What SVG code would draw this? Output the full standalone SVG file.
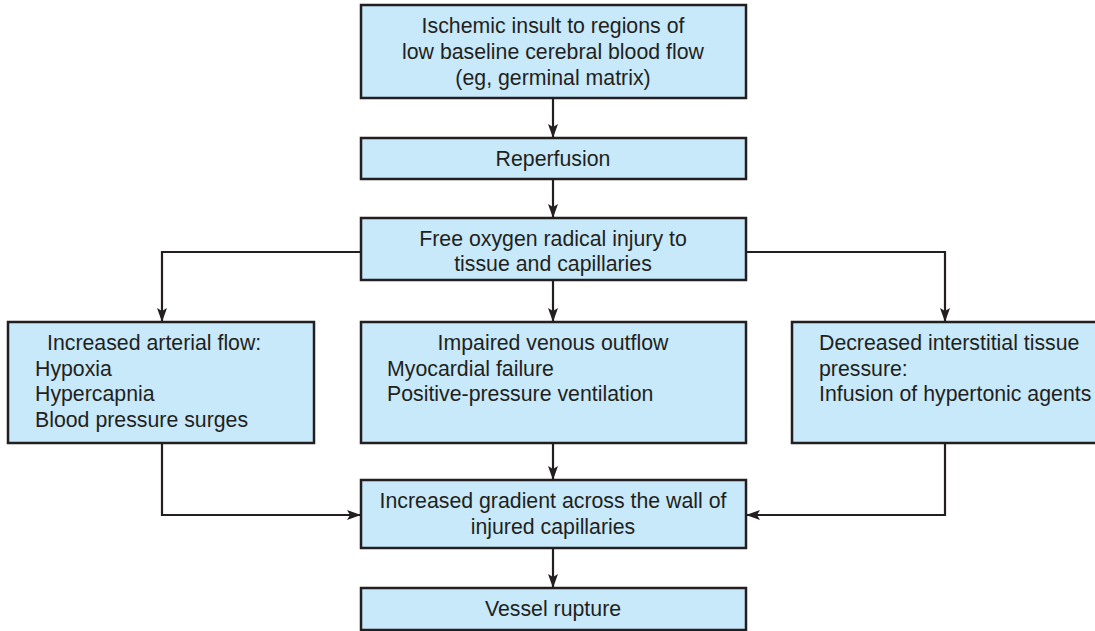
<svg xmlns="http://www.w3.org/2000/svg" width="1095" height="631" viewBox="0 0 1095 631">
<style>
.box{fill:#c7e9f9;stroke:#231f20;stroke-width:2.5}
.t{font-family:"Liberation Sans",Arial,sans-serif;font-size:21.3px;fill:#231f20}
.c{text-anchor:middle}
.ln{fill:none;stroke:#231f20;stroke-width:2.2}
</style>
<defs>
<marker id="ah" viewBox="0 0 14 10" refX="14" refY="5" markerWidth="14" markerHeight="10" markerUnits="userSpaceOnUse" orient="auto">
<path d="M0,0 L14,5 L0,10 L3,5 Z" fill="#231f20"/>
</marker>
</defs>
<rect width="1095" height="631" fill="#fff"/>
<g id="connectors">
<path class="ln" d="M553,98 V138" marker-end="url(#ah)"/>
<path class="ln" d="M553,179 V218" marker-end="url(#ah)"/>
<path class="ln" d="M553,280 V322" marker-end="url(#ah)"/>
<path class="ln" d="M361,252 H162 V322" marker-end="url(#ah)"/>
<path class="ln" d="M746,252 H945 V322" marker-end="url(#ah)"/>
<path class="ln" d="M553,443 V480" marker-end="url(#ah)"/>
<path class="ln" d="M162,443 V515 H361" marker-end="url(#ah)"/>
<path class="ln" d="M945,443 V515 H746" marker-end="url(#ah)"/>
<path class="ln" d="M553,548 V588" marker-end="url(#ah)"/>
</g>
<g id="ischemic">
<rect class="box" x="361" y="5" width="385" height="93"/>
<text class="t c" x="553" y="33">Ischemic insult to regions of</text>
<text class="t c" x="553" y="59">low baseline cerebral blood flow</text>
<text class="t c" x="553" y="85">(eg, germinal matrix)</text>
</g>
<g id="reperfusion">
<rect class="box" x="361" y="138" width="385" height="41"/>
<text class="t c" x="553" y="166">Reperfusion</text>
</g>
<g id="radical">
<rect class="box" x="361" y="218" width="385" height="62"/>
<text class="t c" x="553" y="246">Free oxygen radical injury to</text>
<text class="t c" x="553" y="271">tissue and capillaries</text>
</g>
<g id="arterial">
<rect class="box" x="8" y="322" width="306" height="121"/>
<text class="t" x="47" y="350">Increased arterial flow:</text>
<text class="t" x="35" y="376">Hypoxia</text>
<text class="t" x="35" y="401">Hypercapnia</text>
<text class="t" x="35" y="427">Blood pressure surges</text>
</g>
<g id="venous">
<rect class="box" x="361" y="322" width="385" height="121"/>
<text class="t c" x="553" y="350">Impaired venous outflow</text>
<text class="t" x="387" y="376">Myocardial failure</text>
<text class="t" x="387" y="401">Positive-pressure ventilation</text>
</g>
<g id="interstitial">
<rect class="box" x="792" y="322" width="310" height="121"/>
<text class="t" x="819" y="350">Decreased interstitial tissue</text>
<text class="t" x="819" y="376">pressure:</text>
<text class="t" x="819" y="401">Infusion of hypertonic agents</text>
</g>
<g id="gradient">
<rect class="box" x="361" y="480" width="385" height="68"/>
<text class="t c" x="553" y="508">Increased gradient across the wall of</text>
<text class="t c" x="553" y="534">injured capillaries</text>
</g>
<g id="rupture">
<rect class="box" x="361" y="588" width="385" height="42"/>
<text class="t c" x="553" y="616">Vessel rupture</text>
</g>
</svg>
